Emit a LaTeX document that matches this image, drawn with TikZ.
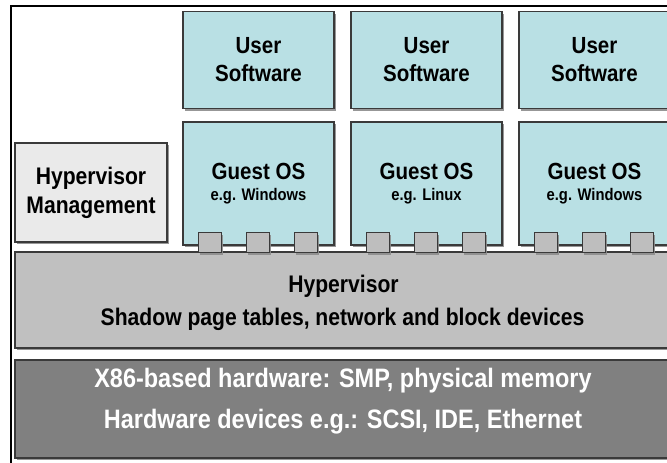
\documentclass[tikz,border=0pt]{standalone}
\usepackage{fontspec}
\setmainfont{Liberation Sans}
\newfontfamily\narrowfont{Liberation Sans}[FakeStretch=0.88]
\usetikzlibrary{positioning,shadows}
\definecolor{guestblue}{RGB}{185,224,228}
\definecolor{mgmtgray}{RGB}{234,234,234}
\definecolor{hypgray}{RGB}{192,192,192}
\definecolor{hwgray}{RGB}{128,128,128}
\definecolor{portgray}{RGB}{190,190,190}
\definecolor{boxline}{RGB}{58,58,58}

\begin{document}
\begin{tikzpicture}[x=0.75pt, y=-0.75pt,
    shadowed/.style={draw=boxline, line width=1.1pt,
        drop shadow={shadow xshift=1.5pt, shadow yshift=-1.5pt, fill=black!45, opacity=0.9}},
    userbox/.style={shadowed, fill=guestblue, minimum width=113.25pt, minimum height=72.75pt,
        align=center, font=\narrowfont\bfseries\fontsize{17.5}{21}\selectfont},
    guestbox/.style={shadowed, fill=guestblue, minimum width=113.25pt, minimum height=92.25pt,
        align=center, font=\narrowfont\bfseries\fontsize{17.5}{16}\selectfont},
    port/.style={shadowed, fill=portgray, minimum width=17.25pt, minimum height=15pt, inner sep=0pt},
    mgmtbox/.style={shadowed, fill=mgmtgray, minimum width=114pt, minimum height=74.25pt,
        align=center, font=\narrowfont\bfseries\fontsize{18}{21.75}\selectfont},
    bar/.style={shadowed, minimum width=528.75pt, inner sep=0pt},
    hyptext/.style={anchor=base, font=\narrowfont\bfseries\fontsize{18}{18}\selectfont},
    hwtext/.style={anchor=base, text=white, font=\narrowfont\bfseries\fontsize{20}{20}\selectfont}
]
    \useasboundingbox (0,0) rectangle (667,463);
    \clip (0,0) rectangle (667,463);

    % Frame
    \draw [line width=1.9pt] (11,6) rectangle (720,520);

    % Guests
    \foreach \k/\os in {1/Windows,2/Linux,3/Windows} {
        \node [guestbox] (guest\k) at ({258.5+168*(\k-1)},183.5)
            {Guest OS\\{\fontsize{12.6}{14}\selectfont e.g. \os}};
        \node [userbox, above=9pt of guest\k] (user\k) {User\\Software};
    }

    % Management
    \node [mgmtbox] (mgmt) at (91,192.5) {Hypervisor\\Management};

    % Layers
    \node [bar, fill=hypgray, minimum height=72pt] (hyp) at (367.5,300) {};
    \node [bar, fill=hwgray, minimum height=73.5pt] (hw) at (367.5,409) {};

    % Ports
    \foreach \k in {1,2,3}
        \foreach \j/\dx in {0/20.625pt,1/56.625pt,2/92.625pt}
            \node [port] (port\k\j) at ([xshift=\dx, yshift=2.25pt]guest\k.south west) {};

    % Labels
    \node [hyptext] (hyptitle) at (343.5,292) {Hypervisor};
    \node [hyptext] (hypsub) at (342.5,325) {Shadow page tables, network and block devices};
    \node [hwtext] (hwcpu) at (343,387) {X86-based hardware: SMP, physical memory};
    \node [hwtext] (hwdev) at (343,428) {Hardware devices e.g.: SCSI, IDE, Ethernet};
\end{tikzpicture}
\end{document}
